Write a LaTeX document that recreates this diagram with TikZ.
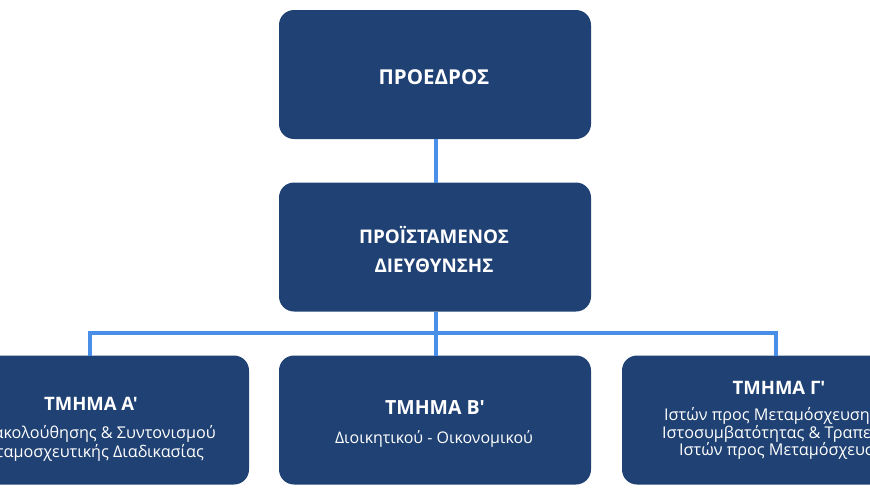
\documentclass[tikz,border=0pt]{standalone}
\usepackage{fontspec}
\newfontfamily\gfont{Open Sans}
\definecolor{navy}{HTML}{1F4173}
\definecolor{conn}{HTML}{4A8FE7}
\tikzset{
  box/.style={draw=none, fill=navy, rounded corners=15pt, minimum width=312pt, minimum height=129pt, inner sep=0pt, outer sep=0pt},
  hd/.style={text=white, font=\gfont\fontsize{#1}{21}\selectfont\bfseries, anchor=base, inner sep=0pt},
  sb/.style={text=white, font=\gfont\fontsize{#1}{18}\selectfont, anchor=base, inner sep=0pt},
  link/.style={draw=conn, line width=4pt},
}
\begin{document}
\begin{tikzpicture}[x=1pt,y=-1pt]
\useasboundingbox (0,0) rectangle (870,490);
\clip (0,0) rectangle (870,490);
\coordinate (hm) at (435.5,333);
\coordinate (hl) at (90,333);
\coordinate (hr) at (776,333);
\node[box] (pres) at (435,74.5) {};
\node[box] (dir) at (435,247) {};
\node[box] (ta) at (93,420) {};
\node[box] (tb) at (435,420) {};
\node[box] (tg) at (778,420) {};
\draw[link] (pres.south -| hm) -- (dir.north -| hm);
\draw[link] (dir.south -| hm) -- (tb.north -| hm);
\draw[link] (ta.north -| hl) -- (hl) -- (hr) -- (tg.north -| hr);
% texts
\node[hd=20.5] (t1) at (434,84.5) {ΠΡΟΕΔΡΟΣ};
\node[hd=18.8] (t2) at (434,243.5) {ΠΡΟΪΣΤΑΜΕΝΟΣ};
\node[hd=18.8] (t3) at (434,272) {ΔΙΕΥΘΥΝΣΗΣ};
\node[hd=18.5] (ta1) at (91,410) {ΤΜΗΜΑ Α'};
\node[sb=16.2, anchor=base east] (ta2) at (216,438.5) {Παρακολούθησης \& Συντονισμού};
\node[sb=16.2, anchor=base east] (ta3) at (204,457.5) {Μεταμοσχευτικής Διαδικασίας};
\node[hd=19.5] (tb1) at (435,414) {ΤΜΗΜΑ Β'};
\node[sb=16] (tb2) at (434,443.5) {Διοικητικού - Οικονομικού};
\node[hd=18.5] (tg1) at (779,394) {ΤΜΗΜΑ Γ'};
\node[sb=16.2, anchor=base west] (tg2) at (664,420.5) {Ιστών προς Μεταμόσχευση και};
\node[sb=16.2, anchor=base west] (tg3) at (662,438) {Ιστοσυμβατότητας \& Τραπεζών};
\node[sb=16.2, anchor=base west] (tg4) at (679,455.5) {Ιστών προς Μεταμόσχευση};
\end{tikzpicture}
\end{document}
